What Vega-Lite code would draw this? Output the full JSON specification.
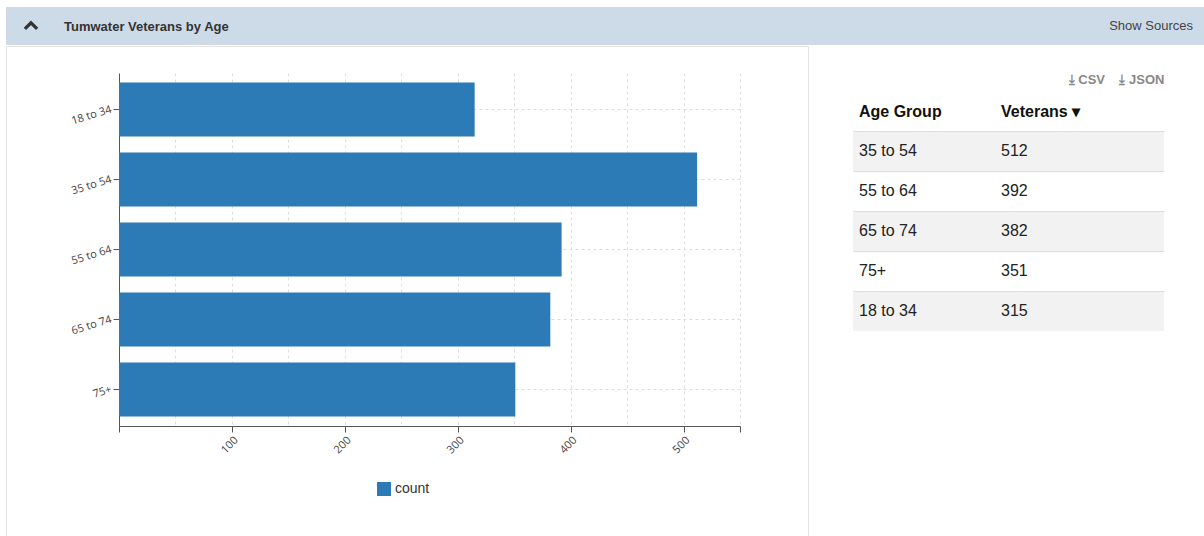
{
  "$schema": "https://vega.github.io/schema/vega-lite/v6.json",
  "padding": {"left": 5, "top": 6, "right": 0, "bottom": 0},
  "autosize": {"type": "pad"},
  "background": "#ffffff",
  "spacing": 0,
  "config": {"view": {"stroke": null}, "font": "Liberation Sans"},
  "vconcat": [
    {
      "width": 1199,
      "height": 37,
      "view": {"fill": "#cddbe9", "stroke": "#d2d8df"},
      "data": {"values": [
        {"label": "Tumwater Veterans by Age", "kind": "title"},
        {"label": "Show Sources", "kind": "link"},
        {"label": "collapse", "kind": "icon"}
      ]},
      "layer": [
        {
          "transform": [{"filter": "datum.kind == 'icon'"}],
          "mark": {"type": "point", "shape": "M-1,0.55L0,-0.45L1,0.55", "filled": false, "stroke": "#333333", "strokeWidth": 3.2, "strokeJoin": "miter", "size": 150, "opacity": 1},
          "encoding": {"x": {"field": "label", "type": "nominal", "scale": {"type": "point", "domain": ["collapse"], "range": [25, 25]}, "axis": null}}
        },
        {
          "transform": [{"filter": "datum.kind == 'title'"}],
          "mark": {"type": "text", "align": "left", "baseline": "middle", "dy": 1, "font": "Liberation Sans", "fontSize": 13, "fontWeight": "bold", "color": "#333333"},
          "encoding": {
            "x": {"field": "label", "type": "nominal", "scale": {"type": "point", "domain": ["Tumwater Veterans by Age", "Show Sources"], "range": [58, 1187], "padding": 0}, "axis": null},
            "text": {"field": "label"}
          }
        },
        {
          "transform": [{"filter": "datum.kind == 'link'"}],
          "mark": {"type": "text", "align": "right", "baseline": "middle", "dy": 0, "font": "Liberation Sans", "fontSize": 13, "color": "#444444"},
          "encoding": {
            "x": {"field": "label", "type": "nominal", "scale": {"type": "point", "domain": ["Tumwater Veterans by Age", "Show Sources"], "range": [58, 1187], "padding": 0}, "axis": null},
            "text": {"field": "label"}
          }
        }
      ],
      "resolve": {"scale": {"x": "independent"}}
    },
    {
      "hconcat": [
        {
          "width": 802,
          "height": 494,
          "view": {"stroke": "#e3e3e3", "fill": null},
          "data": {"values": [
            {"age": "18 to 34", "count": 315},
            {"age": "35 to 54", "count": 512},
            {"age": "55 to 64", "count": 392},
            {"age": "65 to 74", "count": 382},
            {"age": "75+", "count": 351}
          ]},
          "mark": {"type": "bar"},
          "encoding": {
            "y": {
              "field": "age", "type": "nominal", "sort": null,
              "scale": {"domain": ["18 to 34", "35 to 54", "55 to 64", "65 to 74", "75+"], "range": [27, 380], "paddingInner": 0.2286, "paddingOuter": 0.136},
              "axis": {"orient": "left", "offset": -113, "title": null, "labelAngle": -17, "labelAlign": "right", "labelBaseline": "middle", "labelFont": "Open Sans", "labelFontSize": 11, "labelColor": "#444444", "labelPadding": 2, "tickSize": 6, "tickColor": "#555555", "domainColor": "#555555", "grid": true, "gridDash": [3, 3], "gridColor": "#dddddd"}
            },
            "x": {
              "field": "count", "type": "quantitative",
              "scale": {"domain": [0, 550], "range": [113, 734], "nice": false, "zero": true},
              "axis": {
                "orient": "top", "offset": -380, "title": null,
                "values": [0, 50, 100, 150, 200, 250, 300, 350, 400, 450, 500, 550],
                "labelExpr": "datum.value % 100 == 0 && datum.value > 0 && datum.value < 550 ? datum.label : ''",
                "labelAngle": -45, "labelAlign": "right", "labelBaseline": "top", "labelFont": "Open Sans", "labelFontSize": 11, "labelColor": "#444444", "labelPadding": -2,
                "tickSize": -6, "tickColor": "#555555",
                "tickOpacity": {"condition": {"test": "datum.value % 100 != 0 && datum.value != 550", "value": 0}, "value": 1},
                "domainColor": "#555555",
                "grid": true, "gridDash": [3, 3], "gridColor": "#dddddd",
                "gridOpacity": {"condition": {"test": "datum.value == 0", "value": 0}, "value": 1}
              }
            },
            "color": {
              "datum": "count", "type": "nominal",
              "scale": {"range": ["#2c7bb6"]},
              "legend": {"orient": "none", "legendX": 371, "legendY": 475, "title": null, "symbolType": "square", "symbolSize": 196, "symbolFillColor": "#2c7bb6", "symbolStrokeColor": "#2c7bb6", "symbolStrokeWidth": 0, "symbolOpacity": 1, "labelFont": "Liberation Sans", "labelFontSize": 14, "labelColor": "#333333", "padding": 0}
            }
          }
        },
        {
          "width": 311,
          "height": 494,
          "view": {"stroke": null},
          "data": {"values": [
            {"age": "35 to 54", "veterans": 512},
            {"age": "55 to 64", "veterans": 392},
            {"age": "65 to 74", "veterans": 382},
            {"age": "75+", "veterans": 351},
            {"age": "18 to 34", "veterans": 315}
          ]},
          "encoding": {
            "y": {
              "field": "age", "type": "nominal", "sort": null,
              "scale": {"domain": ["35 to 54", "55 to 64", "65 to 74", "75+", "18 to 34"], "range": [85, 285], "paddingInner": 0, "paddingOuter": 0},
              "axis": {"orient": "left", "labels": false, "ticks": false, "domain": false, "grid": true, "gridColor": "#dddddd", "bandPosition": 0, "zindex": 1, "title": null}
            }
          },
          "layer": [
            {
              "mark": {"type": "rect"},
              "encoding": {
                "color": {"condition": {"test": "datum.age == '35 to 54' || datum.age == '65 to 74' || datum.age == '18 to 34'", "value": "#f2f2f2"}, "value": "#ffffff"}
              }
            },
            {
              "mark": {"type": "text", "align": "left", "baseline": "middle", "dx": 6, "font": "Liberation Sans", "fontSize": 16, "color": "#222222"},
              "encoding": {
                "x": {
                  "datum": "Age Group", "type": "nominal", "bandPosition": 0,
                  "scale": {"type": "band", "domain": ["Age Group", "Veterans"], "paddingInner": 0, "paddingOuter": 0.0951, "align": 0},
                  "axis": {
                    "orient": "top", "offset": -85,
                    "labelAngle": 0, "labelAlign": "left", "labelOffset": -65, "labelBaseline": "middle", "labelPadding": 20,
                    "labelFont": "Liberation Sans", "labelFontSize": 16, "labelFontWeight": "bold", "labelColor": "#111111",
                    "labelExpr": "datum.value == 'Veterans' ? 'Veterans ▾' : datum.value",
                    "domain": false, "ticks": false, "grid": false,
                    "title": "⤓ CSV\u00a0\u00a0\u00a0\u00a0⤓ JSON", "titleAnchor": "end", "titleAlign": "right",
                    "titleFont": "Liberation Sans", "titleFontSize": 13, "titleFontWeight": "bold", "titleColor": "#888888", "titlePadding": 17
                  }
                },
                "text": {"field": "age"}
              }
            },
            {
              "mark": {"type": "text", "align": "left", "baseline": "middle", "dx": 6, "font": "Liberation Sans", "fontSize": 16, "color": "#222222"},
              "encoding": {
                "x": {"datum": "Veterans", "type": "nominal", "bandPosition": 0},
                "text": {"field": "veterans"}
              }
            }
          ]
        }
      ],
      "spacing": 45,
      "bounds": "flush"
    }
  ]
}
